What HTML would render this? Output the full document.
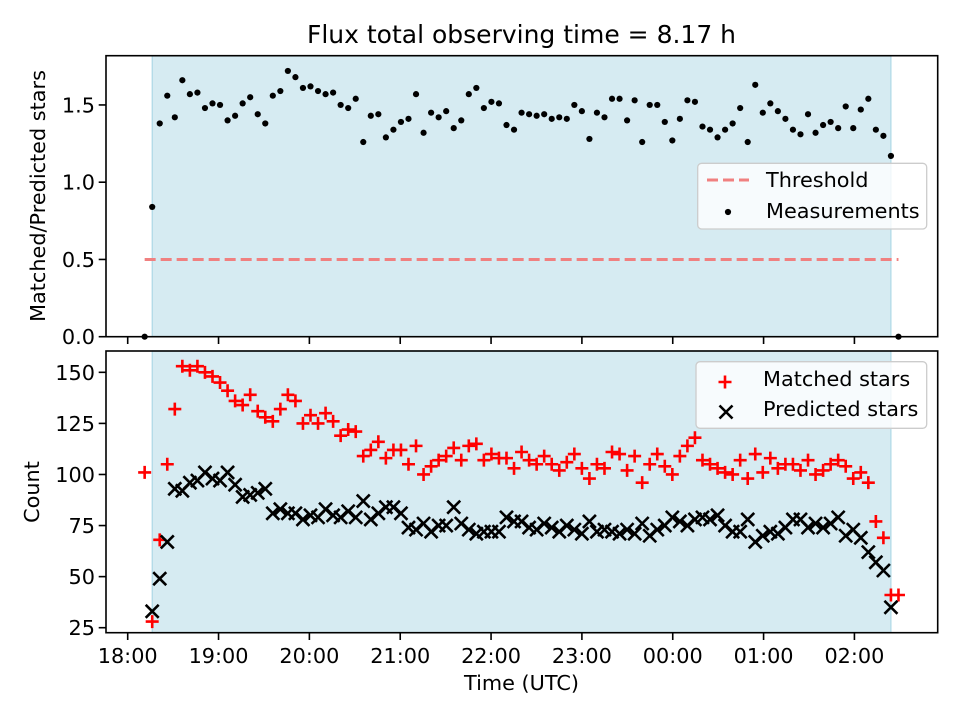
<!DOCTYPE html>
<html><head><meta charset="utf-8"><style>
html,body{margin:0;padding:0;background:#fff}
svg{display:block;font-family:"DejaVu Sans","Liberation Sans",sans-serif}
</style></head><body>
<svg id="chart" width="960" height="720" viewBox="0 0 960 720" xmlns="http://www.w3.org/2000/svg">
<text x="521.5" y="43" font-size="25" text-anchor="middle">Flux total observing time = 8.17 h</text>
<g id="topPanel"></g>
<g id="botPanel"></g>
<text x="521.5" y="690" font-size="20.8" text-anchor="middle">Time (UTC)</text>
<text transform="translate(45,196) rotate(-90)" font-size="20.8" text-anchor="middle">Matched/Predicted stars</text>
<text transform="translate(39,492) rotate(-90)" font-size="20.8" text-anchor="middle">Count</text>
</svg>
<script>
const startMinute = 11.2;
const stepMinutes = 4.979;
const shadeStartMinute = 16.2;
const shadeEndMinute = 504.1;
const threshold = 0.5;
const xTickLabels = ["18:00","19:00","20:00","21:00","22:00","23:00","00:00","01:00","02:00"];
const xTickMinutes = [0,60,120,180,240,300,360,420,480];
const ratioTicks = [0.0,0.5,1.0,1.5];
const countTicks = [25,50,75,100,125,150];
const ratio = [0,0.84,1.38,1.56,1.42,1.66,1.57,1.58,1.48,1.51,1.50,1.40,1.43,1.51,1.55,1.44,1.38,1.56,1.59,1.72,1.68,1.61,1.62,1.59,1.57,1.58,1.50,1.48,1.54,1.26,1.43,1.44,1.29,1.34,1.39,1.41,1.57,1.32,1.45,1.42,1.46,1.35,1.40,1.57,1.61,1.48,1.52,1.51,1.37,1.34,1.45,1.44,1.43,1.44,1.41,1.42,1.41,1.50,1.46,1.28,1.45,1.42,1.54,1.54,1.40,1.53,1.26,1.50,1.50,1.39,1.27,1.41,1.53,1.52,1.36,1.34,1.29,1.34,1.38,1.48,1.26,1.63,1.45,1.51,1.46,1.41,1.34,1.31,1.44,1.32,1.37,1.39,1.35,1.49,1.35,1.47,1.54,1.34,1.30,1.17,0];
const matched = [101,28,68,105,132,153,151,153,150,148,145,141,136,134,139,131,128,126,132,139,136,125,129,125,130,126,119,122,121,109,112,116,108,112,112,105,114,100,104,107,109,113,107,114,115,107,110,108,108,103,111,107,105,109,105,102,106,110,103,98,105,103,111,110,102,109,96,105,110,104,100,109,114,118,107,105,103,101,100,107,98,110,101,108,103,105,105,102,107,100,102,105,107,104,98,101,96,77,69,41,41];
const predicted = [null,33,49,67,93,92,96,97,101,98,97,101,95,89,90,91,93,81,83,81,81,78,80,79,83,80,79,82,79,87,78,81,84,84,81,74,73,76,72,75,75,84,76,73,71,72,72,72,79,77,77,74,73,76,74,72,75,73,71,77,72,73,72,71,73,71,76,70,73,75,79,77,75,78,79,78,80,75,72,72,78,67,70,72,71,74,78,78,74,76,74,76,79,70,73,69,62,57,53,35,null];

const NS="http://www.w3.org/2000/svg";
const L=106, R=937.7;
const xs = m => 127.7 + m*1.514;
const yTop = v => 336.7 - v*154.5;
const yBot = v => 627.7 - (v-25)*2.043;
const T1=55.7,B1=336.7,T2=351,B2=632.7;
function mk(parent,tag,attrs){const e=document.createElementNS(NS,tag);for(const k in attrs)e.setAttribute(k,attrs[k]);parent.appendChild(e);return e;}
const gTop=document.getElementById('topPanel'), gBot=document.getElementById('botPanel');
const timeOf = i => startMinute + i*stepMinutes;

function panel(g,T,B,yf,ticks,fmt,labelsX,prefix){
  const s=mk(g,'rect',{x:xs(shadeStartMinute),y:T,width:xs(shadeEndMinute)-xs(shadeStartMinute),height:B-T,fill:'#add8e6','fill-opacity':0.5,stroke:'#add8e6','stroke-width':1.2});
  
  
  ticks.forEach(v=>{
    const y=yf(v);
    const t=mk(g,'line',{x1:L-7.3,x2:L,y1:y,y2:y,stroke:'#000','stroke-width':1.6});
    
    
    const tx=mk(g,'text',{x:L-11,y:y+7.5,'font-size':20.8,'text-anchor':'end'});
    tx.textContent=fmt(v);
    
    
  });
  xTickMinutes.forEach((m,k)=>{
    const x=xs(m);
    const t=mk(g,'line',{x1:x,x2:x,y1:B,y2:B+7.3,stroke:'#000','stroke-width':1.6});
    
    
    if(labelsX){
      const tx=mk(g,'text',{x:x,y:663,'font-size':20.8,'text-anchor':'middle'});
      tx.textContent=xTickLabels[k];
      
      
    }
  });
}
function frame(g,T,B,prefix){
  const f=mk(g,'rect',{x:L,y:T,width:R-L,height:B-T,fill:'none',stroke:'#000','stroke-width':1.6});
  
  
}

panel(gTop,T1,B1,yTop,ratioTicks,v=>v.toFixed(1),false,'top');
const th=mk(gTop,'line',{x1:xs(timeOf(0)),x2:xs(timeOf(ratio.length-1)),y1:yTop(threshold),y2:yTop(threshold),stroke:'#f08080','stroke-width':3,'stroke-dasharray':'11 5'});


ratio.forEach((v,i)=>{
  const c=mk(gTop,'circle',{cx:xs(timeOf(i)),cy:yTop(v),r:3.1,fill:'#000'});
  
  
});
frame(gTop,T1,B1,'top');

panel(gBot,T2,B2,yBot,countTicks,v=>String(v),true,'bottom');
function plus(g,x,y){
  return mk(g,'path',{d:`M${x-6.5} ${y}H${x+6.5}M${x} ${y-6.5}V${y+6.5}`,stroke:'#ff0000','stroke-width':2.6,fill:'none'});
}
function cross(g,x,y){
  return mk(g,'path',{d:`M${x-6.5} ${y-6.5}L${x+6.5} ${y+6.5}M${x-6.5} ${y+6.5}L${x+6.5} ${y-6.5}`,stroke:'#000','stroke-width':2.6,fill:'none'});
}
matched.forEach((v,i)=>{
  if(v==null)return;
  const p=plus(gBot,xs(timeOf(i)),yBot(v));
  
  
});
predicted.forEach((v,i)=>{
  if(v==null)return;
  const p=cross(gBot,xs(timeOf(i)),yBot(v));
  
  
});
frame(gBot,T2,B2,'bottom');

const lg1=mk(gTop,'g',{});


mk(lg1,'rect',{x:697.7,y:163.3,width:229,height:65.7,rx:4,fill:'#fff','fill-opacity':0.8,stroke:'#cccccc','stroke-width':1.3});
const l1=mk(lg1,'line',{x1:707,x2:749,y1:180,y2:180,stroke:'#f08080','stroke-width':3,'stroke-dasharray':'11 5'});


const t1=mk(lg1,'text',{x:766,y:187,'font-size':20.8});t1.textContent='Threshold';


const d1=mk(lg1,'circle',{cx:728,cy:212,r:3.1,fill:'#000'});


const t2=mk(lg1,'text',{x:766,y:218,'font-size':20.8});t2.textContent='Measurements';



const lg2=mk(gBot,'g',{});


mk(lg2,'rect',{x:696,y:361.7,width:230.7,height:66.6,rx:4,fill:'#fff','fill-opacity':0.8,stroke:'#cccccc','stroke-width':1.3});
const p1=plus(lg2,725,382);


const t3=mk(lg2,'text',{x:763,y:386,'font-size':20.8});t3.textContent='Matched stars';


const p2=cross(lg2,726,412);


const t4=mk(lg2,'text',{x:763,y:416,'font-size':20.8});t4.textContent='Predicted stars';


</script>
</body></html>
